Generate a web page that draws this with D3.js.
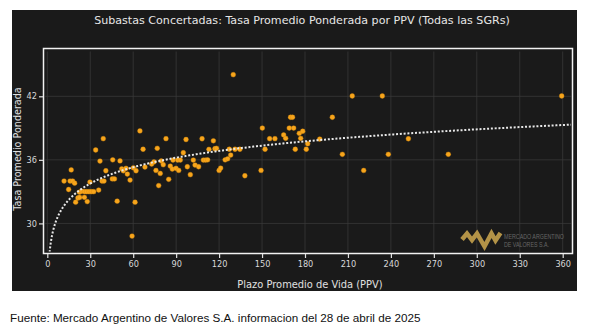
<!DOCTYPE html>
<html><head><meta charset="utf-8">
<script src="https://cdn.jsdelivr.net/npm/d3@7"></script>
<style>body{margin:0;background:#fff;} svg{display:block}</style>
</head><body><svg id="c" width="594" height="333"></svg>
<script>
// PPV (días) de cada subasta
const ppv = [
  11.7,14.9,15.9,16.7,17.7,19.1,19.8,21.4,22.5,22.6,24.0,25.9,27.5,29.1,30.7,32.4,35.9,25.9,27.9,29.8,33.8,36.8,38.2,39.6,39.1,40.9,
  45.7,45.4,46.9,48.8,50.8,52.0,53.1,55.0,55.9,57.8,59.2,60.1,61.3,62.0,64.7,66.9,68.2,72.9,74.5,75.9,76.8,77.8,78.9,79.6,81.0,82.9,84.8,85.9,87.3,87.8,89.9,91.1,91.8,92.9,95.0,96.9,97.8,99.9,
  102.0,103.2,105.7,108.1,109.0,110.6,112.0,112.9,116.0,117.1,118.2,120.0,121.1,124.2,126.0,127.1,128.1,129.9,131.1,134.5,138.0,149.3,150.2,152.1,155.3,159.0,
  165.1,166.5,169.0,172.1,169.9,171.3,173.2,176.0,178.4,177.0,180.9,181.9,190.3,199.1,206.1,213.0,221.0,234.0,238.2,252.2,280.1,359.3
];
// Tasa promedio ponderada (%)
const tasa = [
  34.0,33.2,34.0,35.05,34.0,33.8,32.0,32.4,32.95,32.45,33.05,33.0,33.0,33.0,33.0,33.0,33.15,32.46,32.06,33.9,36.93,35.88,34.0,34.0,38.0,34.97,
  36.0,34.2,34.2,32.1,35.9,35.15,34.97,35.2,34.66,34.09,28.8,35.25,32.0,34.97,38.73,37.0,35.32,35.6,35.8,35.0,37.09,33.57,34.72,35.89,35.54,38.0,34.16,35.41,35.13,35.98,35.2,35.98,35.0,35.98,36.67,37.92,35.35,34.6,
  35.98,35.51,35.35,37.99,35.98,35.98,36.0,36.99,37.8,37.05,37.09,35.0,35.22,36.0,36.1,37.0,36.45,44.04,37.0,37.0,34.5,35.0,39.0,37.0,38.0,38.0,
  38.35,38.03,39.0,39.0,40.02,40.02,37.0,38.5,38.7,38.03,37.0,37.52,37.96,40.02,36.52,42.03,35.0,42.03,36.52,37.99,36.52,42.03
];
const xTicks = [0,30,60,90,120,150,180,210,240,270,300,330,360];
const yTicks = [30,36,42];
const titleText = "Subastas Concertadas: Tasa Promedio Ponderada por PPV (Todas las SGRs)";
const xLabel = "Plazo Promedio de Vida (PPV)";
const yLabel = "Tasa Promedio Ponderada";
const sourceText = "Fuente: Mercado Argentino de Valores S.A. informacion del 28 de abril de 2025";

const svg = d3.select("#c");
const FONT = "DejaVu Sans, Verdana, sans-serif";

// dark panel
svg.append("rect").attr("x",12).attr("y",10).attr("width",565).attr("height",281).attr("fill","#1a1a1a");

const x = d3.scaleLinear().domain([0,360]).range([47.3,562.7]);
const y = d3.scaleLinear().domain([30,42]).range([223.4,96.3]);
const inner = {x0:45.2, x1:571.2, y0:51.5, y1:251.5};

// grid
svg.append("g").selectAll("line").data(xTicks).join("line")
  .attr("x1",d=>x(d)).attr("x2",d=>x(d)).attr("y1",inner.y0).attr("y2",inner.y1)
  .attr("stroke","#383838").attr("stroke-width",0.8);
svg.append("g").selectAll("line").data(yTicks).join("line")
  .attr("x1",inner.x0).attr("x2",inner.x1).attr("y1",d=>y(d)).attr("y2",d=>y(d))
  .attr("stroke","#383838").attr("stroke-width",0.8);

// frame
svg.append("rect").attr("x",43.5).attr("y",48.5).attr("width",529).attr("height",205)
  .attr("fill","none").attr("stroke","#f2f2f2").attr("stroke-width",1.5);

// axes
const xAxis = d3.axisBottom(x).tickValues(xTicks).tickSize(4).tickPadding(3);
const gx = svg.append("g").attr("transform","translate(0,254)").call(xAxis);
gx.select(".domain").remove();
gx.selectAll("line").attr("stroke","#e0e0e0").attr("stroke-width",1.2);
gx.selectAll("text").attr("fill","#d8d8d8").attr("font-size",8.2).attr("font-family",FONT);

const yAxis = d3.axisLeft(y).tickValues(yTicks).tickSize(4).tickPadding(2);
const gy = svg.append("g").attr("transform","translate(43,0)").call(yAxis);
gy.select(".domain").remove();
gy.selectAll("line").attr("stroke","#e0e0e0").attr("stroke-width",1.2);
gy.selectAll("text").attr("fill","#d8d8d8").attr("font-size",8.2).attr("font-family",FONT);

// watermark logo
const logo = svg.append("g");
logo.append("polyline")
  .attr("points",[[462,239.5],[467,233.5],[472,240],[477,233.5],[484.5,246.5],[491.5,233.5],[495.5,240.5],[500.5,233]].map(p=>p.join(",")).join(" "))
  .attr("fill","none").attr("stroke","#b39347").attr("stroke-width",4.5).attr("stroke-linejoin","miter");
logo.append("text").attr("x",504).attr("y",238.8).text("MERCADO ARGENTINO")
  .attr("font-family","Liberation Sans Narrow, Liberation Sans, sans-serif").attr("font-size",6.3)
  .attr("textLength",60).attr("lengthAdjust","spacingAndGlyphs").attr("fill","#666");
logo.append("text").attr("x",504).attr("y",246.8).text("DE VALORES S.A.")
  .attr("font-family","Liberation Sans Narrow, Liberation Sans, sans-serif").attr("font-size",6.3)
  .attr("textLength",45).attr("lengthAdjust","spacingAndGlyphs").attr("fill","#666");

// log regression trend from the data
const lx = ppv.map(Math.log);
const mx = d3.mean(lx), my = d3.mean(tasa);
let sxy=0, sxx=0;
lx.forEach((v,i)=>{ sxy += (v-mx)*(tasa[i]-my); sxx += (v-mx)*(v-mx); });
const b = sxy/sxx, a = my - b*mx;
const xmax = x.invert(inner.x1);
const tr = d3.range(0,400).map(i=> 1*Math.pow(xmax/1, i/399)).map(v=>({v, t:a+b*Math.log(v)}));

svg.append("clipPath").attr("id","clip").append("rect")
  .attr("x",inner.x0).attr("y",inner.y0).attr("width",inner.x1-inner.x0).attr("height",inner.y1-inner.y0);

// points
svg.append("g").selectAll("circle").data(ppv.map((v,i)=>[v,tasa[i]])).join("circle")
  .attr("cx",d=>x(d[0])).attr("cy",d=>y(d[1])).attr("r",2.4)
  .attr("fill","#f7a51c").attr("stroke","#d98b0c").attr("stroke-width",0.4);

svg.append("path").datum(tr).attr("clip-path","url(#clip)")
  .attr("d",d3.line().x(d=>x(d.v)).y(d=>y(d.t)))
  .attr("fill","none").attr("stroke","#e8e8e8").attr("stroke-width",2).attr("stroke-dasharray","2,1.8");

// titles
svg.append("text").attr("x",302).attr("y",24).attr("text-anchor","middle").text(titleText)
  .attr("fill","#e6e6e6").attr("font-size",11.1).attr("font-family",FONT);
svg.append("text").attr("x",310).attr("y",288).attr("text-anchor","middle").text(xLabel)
  .attr("fill","#e0e0e0").attr("font-size",9.9).attr("font-family",FONT);
svg.append("text").attr("transform","translate(21,149) rotate(-90)").attr("text-anchor","middle").text(yLabel)
  .attr("fill","#e0e0e0").attr("font-size",9.6).attr("font-family",FONT);

svg.append("text").attr("x",10).attr("y",322).text(sourceText)
  .attr("fill","#111").attr("font-size",11.7).attr("font-family","Liberation Sans, Arial, sans-serif");
</script>
</body></html>
